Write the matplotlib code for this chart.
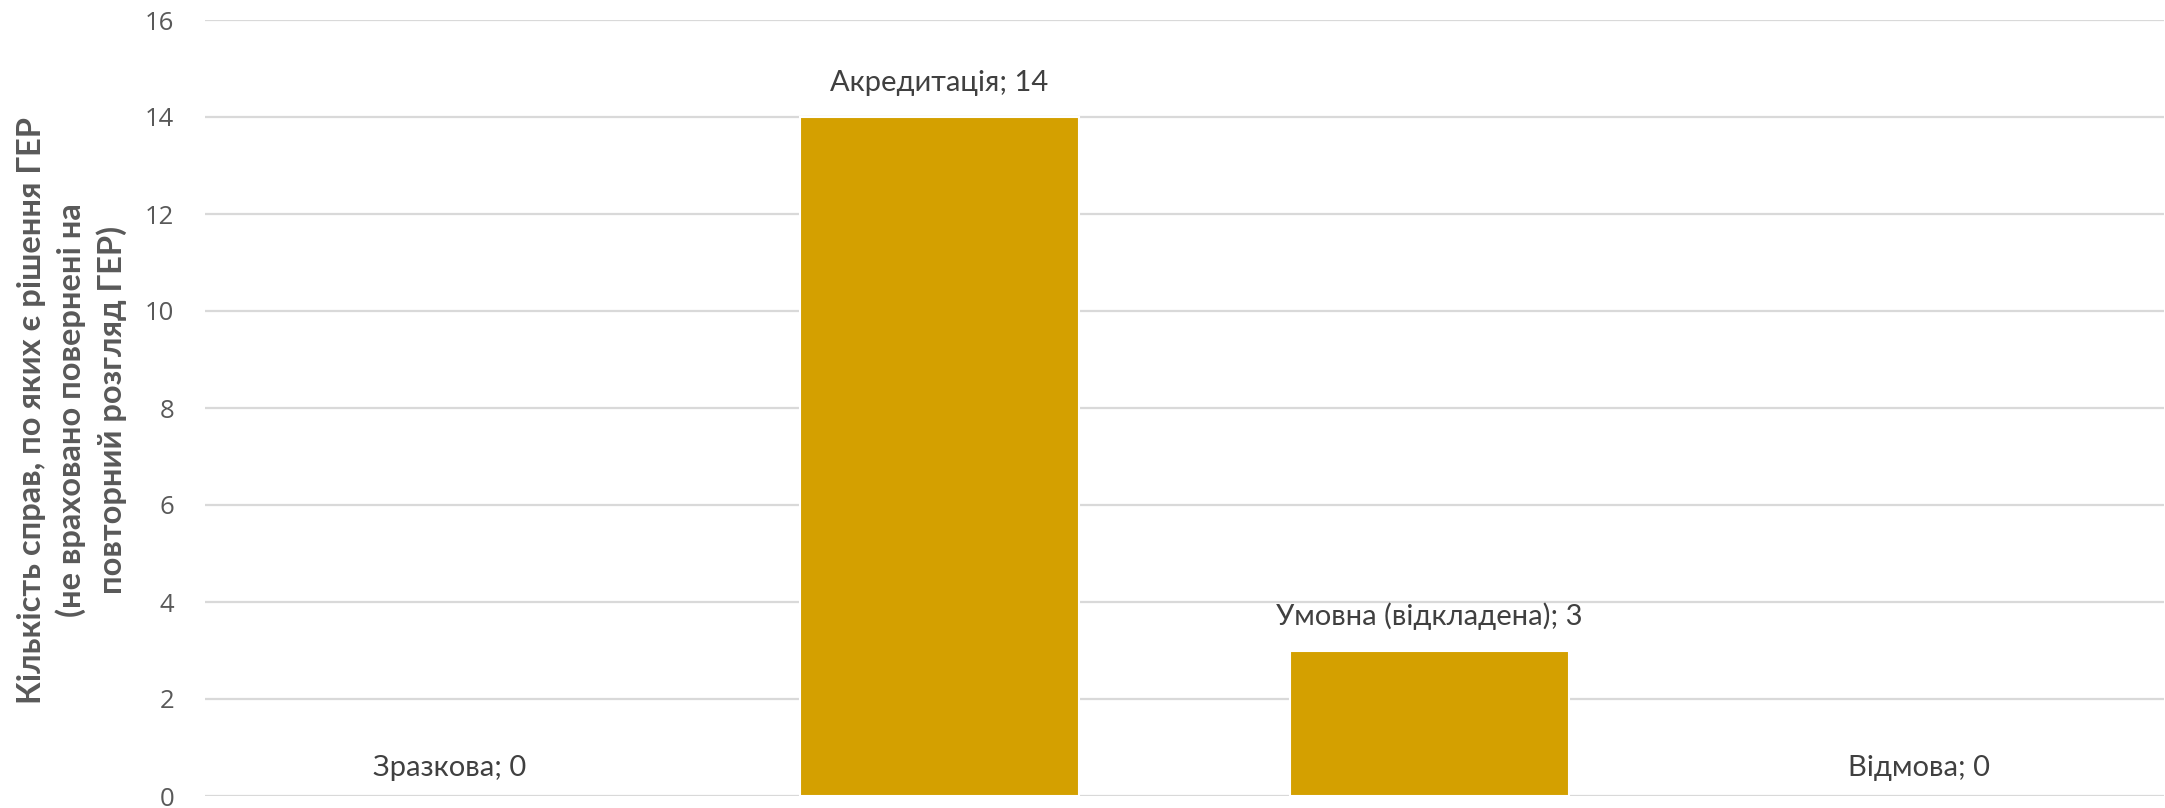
import matplotlib
matplotlib.use("Agg")
import matplotlib.pyplot as plt

categories = ["Зразкова", "Акредитація", "Умовна (відкладена)", "Відмова"]
values = [0, 14, 3, 0]
yticks = [0, 2, 4, 6, 8, 10, 12, 14, 16]
ylabel = "Кількість справ, по яких є рішення ГЕР\n(не враховано повернені на\nповторний розгляд ГЕР)"

W, H = 2165, 808
fig = plt.figure(figsize=(W / 100, H / 100), dpi=100)
ax = fig.add_axes([205 / W, 12 / H, 1 - 205 / W - 1 / W, (797 - 21) / H])

bar_color = "#D4A000"
x = list(range(len(categories)))
ax.bar(x, values, width=0.57, color=bar_color, edgecolor="white",
       linewidth=[1.5 if v > 0 else 0 for v in values], zorder=3)

ax.set_xlim(-0.5, len(categories) - 0.5)
ax.set_ylim(0, 16)
ax.set_yticks(yticks)
ax.set_yticklabels([str(t) for t in yticks], fontsize=18.5, color="#595959",
                   family=["Open Sans", "DejaVu Sans"])
ax.tick_params(axis="y", length=0, pad=22)
ax.set_xticks([])
ax.grid(axis="y", color="#D9D9D9", linewidth=1.6, zorder=0)
for s in ax.spines.values():
    s.set_visible(False)

for xi, (c, v) in enumerate(zip(categories, values)):
    off = 24.5 if v > 0 else 20
    ax.annotate(f"{c}; {v}", (xi, v), xytext=(0, off), textcoords="offset points",
                ha="center", va="center", fontsize=21, color="#404040",
                family=["Lato", "DejaVu Sans"])

fig.text(72 / W, 1 - 410 / H, ylabel, rotation=90, ha="center", va="center",
         multialignment="center", fontsize=23.5, fontweight="bold", color="#595959",
         family=["Lato", "DejaVu Sans"], linespacing=1.36)

fig.savefig("out.png", dpi=100)
